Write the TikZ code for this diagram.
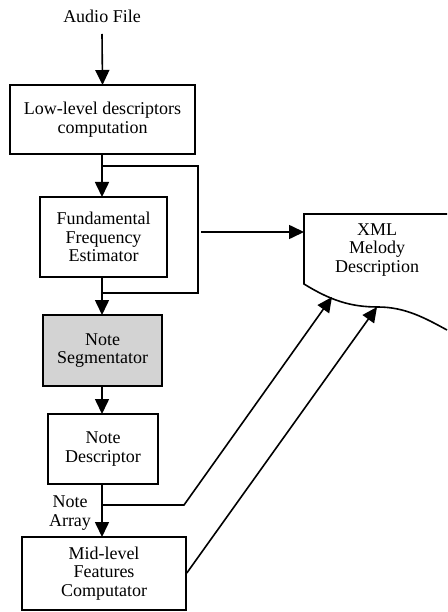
\documentclass[tikz,border=0pt]{standalone}
\usepackage{fontspec}
\setmainfont{Liberation Serif}
\usetikzlibrary{arrows.meta}
\begin{document}
\begin{tikzpicture}[x=1pt,y=-1pt,
  every node/.style={font=\fontsize{18}{18.5}\selectfont, align=center, inner sep=0pt},
  blk/.style={draw, line width=1.6pt, fill=white},
  conn/.style={line width=1.6pt},
  arr/.style={conn, -{Triangle[length=15pt,width=14pt]}}]
\useasboundingbox (0,0) rectangle (447,612);
% nodes (boxes sized explicitly)
\node (audio) at (102,16) {Audio File};
\node[blk, minimum width=185pt, minimum height=69pt] (low) at (102.5,119.5) {Low-level descriptors\\computation};
\node[blk, minimum width=127pt, minimum height=80pt] (ffe) at (103.5,237) {Fundamental\\Frequency\\Estimator};
\node[blk, fill={rgb,255:red,211;green,211;blue,211}, minimum width=119pt, minimum height=71pt] (seg) at (102.5,350.5) {Note\\Segmentator};
\node[blk, minimum width=110pt, minimum height=70pt] (desc) at (103,449) {Note\\Descriptor};
\node[blk, minimum width=164pt, minimum height=73pt] (mid) at (104,573.5) {Mid-level\\Features\\Computator};
\node (arrlab) at (70,513) {Note\\Array};
% XML document shape
\draw[conn] (447,214) -- (304,214) -- (304,284)
  .. controls (330,300) and (350,307) .. (378,307)
  .. controls (405,307) and (425,318) .. (447,330);
\node (xml) at (377,250) {XML\\Melody\\Description};
\coordinate (xmlin) at (304,232);
\coordinate (xmlb1) at (332,297);
\coordinate (xmlb2) at (377,307);
% connectors
\coordinate (audiobot) at (102,34);
\draw[arr] (audiobot) -- (low.south |- 0,85);
\coordinate (bA) at (102,166);
\coordinate (bB) at (198,166);
\coordinate (bC) at (198,293);
\coordinate (bD) at (102,293);
\draw[conn] (102,154) -- (bA);
\draw[arr] (bA) -- (102,197);
\draw[conn] (bA) -- (bB) -- (bC) -- (bD);
\draw[conn] (102,277) -- (bD);
\draw[arr] (bD) -- (102,315);
\draw[arr] (201,232) -- (xmlin);
\draw[arr] (102,386) -- (102,414);
\coordinate (nA) at (102,505);
\coordinate (nB) at (184,505);
\draw[conn] (102,484) -- (nA);
\draw[arr] (nA) -- (102,537);
\draw[arr] (nA) -- (nB) -- (xmlb1);
\draw[arr] (mid.east |- 0,573) -- (xmlb2);
\end{tikzpicture}
\end{document}
